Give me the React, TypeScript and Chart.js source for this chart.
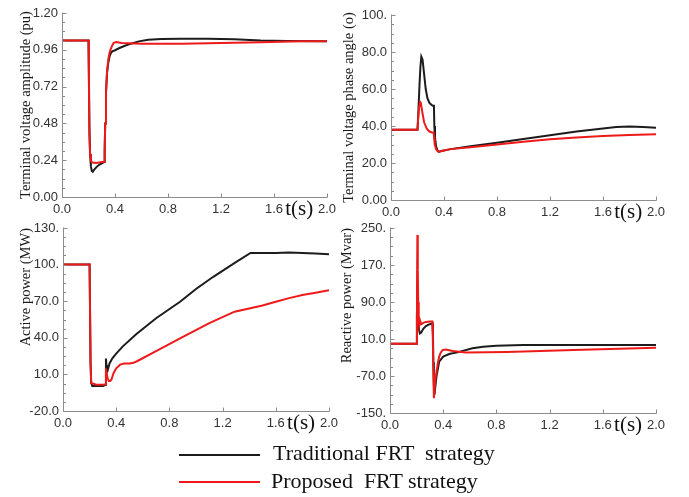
import React, { useEffect, useRef } from 'react';
import { Chart, registerables } from 'chart.js';
Chart.register(...registerables);

// ---------- shared x axis ----------
const xTickValues = [0, 0.4, 0.8, 1.2, 1.6, 2.0];
const xTickLabels = ['0.0', '0.4', '0.8', '1.2', '1.6', '2.0'];

// ---------- Panel 1: terminal voltage amplitude (pu) ----------
const p1Ticks = [0, 0.24, 0.48, 0.72, 0.96, 1.2];
const p1TickLabels = ['0.00', '0.24', '0.48', '0.72', '0.96', '1.20'];
const p1TradT = [0, 0.2, 0.203, 0.207, 0.212, 0.218, 0.225, 0.232, 0.24, 0.26, 0.28, 0.3, 0.318, 0.322, 0.326, 0.332, 0.34, 0.35, 0.36, 0.37, 0.38, 0.4, 0.43, 0.47, 0.52, 0.58, 0.65, 0.75, 0.9, 1.1, 1.3, 1.5, 1.7, 2.0];
const p1TradV = [1.02, 1.02, 0.8, 0.45, 0.28, 0.2, 0.17, 0.165, 0.175, 0.195, 0.21, 0.22, 0.228, 0.3, 0.48, 0.68, 0.81, 0.88, 0.92, 0.94, 0.95, 0.957, 0.97, 0.985, 1.0, 1.015, 1.025, 1.03, 1.032, 1.032, 1.028, 1.02, 1.018, 1.015];
const p1PropT = [0, 0.2, 0.203, 0.207, 0.212, 0.218, 0.23, 0.26, 0.29, 0.318, 0.322, 0.326, 0.332, 0.34, 0.35, 0.36, 0.37, 0.38, 0.39, 0.41, 0.45, 0.6, 0.9, 1.2, 1.5, 1.8, 2.0];
const p1PropV = [1.02, 1.02, 0.75, 0.4, 0.28, 0.235, 0.225, 0.222, 0.226, 0.23, 0.3, 0.48, 0.68, 0.82, 0.9, 0.945, 0.97, 0.99, 1.005, 1.01, 1.005, 1.0, 1.0, 1.005, 1.01, 1.015, 1.015];

// ---------- Panel 2: terminal voltage phase angle ----------
const p2Ticks = [0, 20, 40, 60, 80, 100];
const p2TickLabels = ['0.00', '20.0', '40.0', '60.0', '80.0', '100.'];
const p2TradT = [0, 0.2, 0.205, 0.215, 0.222, 0.229, 0.238, 0.25, 0.262, 0.275, 0.29, 0.305, 0.315, 0.324, 0.327, 0.332, 0.34, 0.35, 0.36, 0.38, 0.45, 0.6, 0.8, 1.0, 1.2, 1.4, 1.6, 1.7, 1.8, 1.9, 2.0];
const p2TradV = [38, 38, 45, 62, 72, 77.5, 76, 68, 60, 55, 52.5, 51.5, 51, 51, 40, 34, 29, 27, 26, 26.5, 27.5, 29, 31, 33, 35, 37, 38.7, 39.5, 39.7, 39.5, 39];
const p2PropT = [0, 0.2, 0.205, 0.212, 0.22, 0.225, 0.235, 0.25, 0.27, 0.29, 0.31, 0.322, 0.326, 0.33, 0.34, 0.35, 0.36, 0.38, 0.45, 0.6, 0.8, 1.0, 1.2, 1.4, 1.6, 1.8, 2.0];
const p2PropV = [38, 38, 44, 50, 53, 52.5, 48, 42, 38.5, 37, 36.5, 36.5, 33, 30, 27.5, 26.5, 26, 26.5, 27.5, 28.5, 30, 31.5, 32.8, 33.8, 34.6, 35.2, 35.5];

// ---------- Panel 3: active power (MW) ----------
const p3Ticks = [-20, 10, 40, 70, 100, 130];
const p3TickLabels = ['-20.0', '10.0', '40.0', '70.0', '100.', '130.'];
const p3TradT = [0, 0.2, 0.203, 0.207, 0.212, 0.22, 0.25, 0.3, 0.32, 0.323, 0.326, 0.33, 0.335, 0.34, 0.35, 0.37, 0.4, 0.45, 0.55, 0.7, 0.88, 1.0, 1.13, 1.3, 1.41, 1.5, 1.6, 1.7, 1.8, 1.9, 2.0];
const p3TradV = [100, 100, 100, 20, 3, 0.5, 0.5, 0.5, 1.5, 23, 18, 14, 13, 15, 19, 23, 27, 33, 43, 56, 69.5, 80, 90, 102, 109.5, 109.5, 109.5, 110, 109.5, 109, 108.5];
const p3PropT = [0, 0.2, 0.203, 0.207, 0.212, 0.25, 0.3, 0.32, 0.323, 0.327, 0.335, 0.345, 0.355, 0.365, 0.38, 0.4, 0.43, 0.46, 0.5, 0.53, 0.56, 0.7, 0.88, 1.1, 1.29, 1.4, 1.5, 1.6, 1.7, 1.8, 1.9, 2.0];
const p3PropV = [100, 100, 100, 20, 3, 1.5, 1.5, 2, 15, 12, 7, 4.5, 4.5, 6, 11, 15, 18, 19, 19, 19.5, 21, 29, 39.6, 52, 61.4, 64, 66.5, 69.5, 72.5, 75, 77, 79];

// ---------- Panel 4: reactive power (Mvar) ----------
const p4Ticks = [-150, -70, 10, 90, 170, 250];
const p4TickLabels = ['-150.', '-70.0', '10.0', '90.0', '170.', '250.'];
const p4TradT = [0, 0.2, 0.202, 0.205, 0.208, 0.212, 0.218, 0.225, 0.235, 0.25, 0.27, 0.29, 0.31, 0.32, 0.323, 0.326, 0.33, 0.335, 0.34, 0.35, 0.37, 0.4, 0.45, 0.5, 0.62, 0.7, 0.8, 1.0, 1.5, 2.0];
const p4TradV = [0, 0, 60, 95, 70, 45, 30, 22, 24, 32, 38, 41, 43, 43, 20, -40, -90, -110, -95, -70, -39, -28, -22, -19.5, -10, -7, -4.5, -3, -3, -3];
const p4PropT = [0, 0.2, 0.203, 0.206, 0.209, 0.212, 0.216, 0.22, 0.226, 0.235, 0.25, 0.27, 0.3, 0.318, 0.322, 0.326, 0.33, 0.335, 0.34, 0.35, 0.36, 0.37, 0.38, 0.395, 0.42, 0.47, 0.57, 0.88, 1.38, 2.0];
const p4PropV = [0, 0, 120, 235, 160, 90, 55, 40, 50, 42, 45, 47, 48, 48, 10, -60, -118, -100, -80, -60, -42, -28, -20, -14, -12.5, -16, -19, -18, -14, -9];

const BLACK = '#1c1c1c';
const RED = '#ee1a1a';
const AXIS = '#8c8c8c';
const TICKCOLOR = '#333333';
const TICKFONT = '"Liberation Sans", Arial, sans-serif';
const SERIF = '"Liberation Serif", "Times New Roman", serif';

const toPts = (t: number[], v: number[]) => t.map((x, i) => ({ x, y: v[i] }));

const axesPlugin = {
  id: 'inwardAxes',
  afterDraw(chart: any) {
    const { ctx, chartArea: a, scales } = chart;
    const xs = scales.x;
    const ys = scales.y;
    ctx.save();
    ctx.strokeStyle = AXIS;
    ctx.lineWidth = 1;
    ctx.beginPath();
    const L = Math.round(a.left) + 0.5;
    const B = Math.round(a.bottom) + 0.5;
    ctx.moveTo(L, a.top - 0.5);
    ctx.lineTo(L, B);
    ctx.lineTo(a.right + 0.5, B);
    const yt = ys.ticks.map((t: any) => t.value);
    yt.forEach((v: number, i: number) => {
      const y = Math.round(ys.getPixelForValue(v)) + 0.5;
      ctx.moveTo(L, y);
      ctx.lineTo(L + 4, y);
      if (i < yt.length - 1) {
        const step = (yt[i + 1] - v) / 4;
        for (let k = 1; k < 4; k++) {
          const ym = Math.round(ys.getPixelForValue(v + step * k)) + 0.5;
          ctx.moveTo(L, ym);
          ctx.lineTo(L + 2.5, ym);
        }
      }
    });
    xs.ticks.forEach((t: any) => {
      const x = Math.round(xs.getPixelForValue(t.value)) + 0.5;
      ctx.moveTo(x, B);
      ctx.lineTo(x, B - 4);
    });
    ctx.stroke();
    ctx.fillStyle = '#111';
    ctx.font = '21px ' + SERIF;
    ctx.textAlign = 'center';
    ctx.textBaseline = 'middle';
    ctx.fillText('t(s)', xs.getPixelForValue(1.79), a.bottom + 12);
    ctx.restore();
  },
};

type PanelProps = {
  left: number; top: number; width: number; height: number;
  yWidth: number; xHeight: number; padTop: number; padRight: number;
  yMin: number; yMax: number; yTicks: number[]; yLabels: string[];
  title: string; titleAlign: 'start' | 'center' | 'end'; titlePad: number;
  tradT: number[]; tradV: number[]; propT: number[]; propV: number[];
};

function Panel(p: PanelProps) {
  const ref = useRef<HTMLCanvasElement>(null);
  useEffect(() => {
    if (!ref.current) return;
    const chart = new Chart(ref.current, {
      type: 'line',
      data: {
        datasets: [
          { label: 'Traditional FRT strategy', data: toPts(p.tradT, p.tradV), borderColor: BLACK, borderWidth: 2, pointRadius: 0, tension: 0, order: 1 },
          { label: 'Proposed FRT strategy', data: toPts(p.propT, p.propV), borderColor: RED, borderWidth: 2, pointRadius: 0, tension: 0, order: 0 },
        ],
      },
      options: {
        responsive: false,
        animation: false,
        devicePixelRatio: 1,
        layout: { padding: { left: 0, top: p.padTop, right: p.padRight, bottom: 0 } },
        plugins: { legend: { display: false }, tooltip: { enabled: false } },
        scales: {
          x: {
            type: 'linear', min: 0, max: 2,
            grid: { display: false, drawTicks: false },
            border: { display: false },
            afterBuildTicks: (s: any) => { s.ticks = xTickValues.map((v) => ({ value: v })); },
            afterFit: (s: any) => { s.height = p.xHeight; },
            ticks: {
              autoSkip: false, maxRotation: 0, padding: 5, color: TICKCOLOR,
              font: { family: TICKFONT, size: 13 },
              callback: (_v: any, i: number) => xTickLabels[i],
            },
          },
          y: {
            type: 'linear', min: p.yMin, max: p.yMax,
            grid: { display: false, drawTicks: false },
            border: { display: false },
            afterBuildTicks: (s: any) => { s.ticks = p.yTicks.map((v) => ({ value: v })); },
            afterFit: (s: any) => { s.width = p.yWidth; },
            ticks: {
              autoSkip: false, padding: 4, color: TICKCOLOR,
              font: { family: TICKFONT, size: 13 },
              callback: (_v: any, i: number) => p.yLabels[i],
            },
            title: {
              display: true, text: p.title, align: p.titleAlign, color: '#1a1a1a',
              font: { family: SERIF, size: 14.5 },
              padding: { top: p.titlePad, bottom: 0 },
            },
          },
        },
      },
      plugins: [axesPlugin],
    } as any);
    return () => chart.destroy();
  }, []);
  return (
    <canvas
      ref={ref}
      width={p.width}
      height={p.height}
      style={{ position: 'absolute', left: p.left, top: p.top, width: p.width, height: p.height }}
    />
  );
}

export default function App() {
  const legendText: React.CSSProperties = {
    position: 'absolute', fontFamily: SERIF, fontSize: 22, color: '#111', whiteSpace: 'pre', lineHeight: '24px',
  };
  return (
    <div style={{ position: 'absolute', left: 0, top: 0, width: 689, height: 497, background: '#fff', overflow: 'hidden' }}>
      <Panel left={0} top={0} width={345} height={225} yWidth={62} xHeight={28} padTop={13} padRight={18}
        yMin={0} yMax={1.2} yTicks={p1Ticks} yLabels={p1TickLabels}
        title="Terminal voltage amplitude (pu)" titleAlign="center" titlePad={17}
        tradT={p1TradT} tradV={p1TradV} propT={p1PropT} propV={p1PropV} />
      <Panel left={338} top={0} width={351} height={225} yWidth={53} xHeight={25} padTop={15} padRight={33}
        yMin={0} yMax={100} yTicks={p2Ticks} yLabels={p2TickLabels}
        title="Terminal voltage phase angle (o)" titleAlign="center" titlePad={2}
        tradT={p2TradT} tradV={p2TradV} propT={p2PropT} propV={p2PropV} />
      <Panel left={0} top={215} width={345} height={220} yWidth={63} xHeight={24} padTop={13} padRight={16}
        yMin={-20} yMax={130} yTicks={p3Ticks} yLabels={p3TickLabels}
        title="Active power (MW)" titleAlign="end" titlePad={17}
        tradT={p3TradT} tradV={p3TradV} propT={p3PropT} propV={p3PropV} />
      <Panel left={338} top={215} width={351} height={220} yWidth={52} xHeight={22} padTop={13} padRight={33}
        yMin={-150} yMax={250} yTicks={p4Ticks} yLabels={p4TickLabels}
        title="Reactive power (Mvar)" titleAlign="end" titlePad={0.5}
        tradT={p4TradT} tradV={p4TradV} propT={p4PropT} propV={p4PropV} />
      <div style={{ position: 'absolute', left: 179, top: 454, width: 81, height: 2, background: BLACK }} />
      <div style={{ ...legendText, left: 273, top: 441 }}>Traditional FRT  strategy</div>
      <div style={{ position: 'absolute', left: 179, top: 481, width: 81, height: 2, background: RED }} />
      <div style={{ ...legendText, left: 271, top: 469 }}>Proposed  FRT strategy</div>
    </div>
  );
}
